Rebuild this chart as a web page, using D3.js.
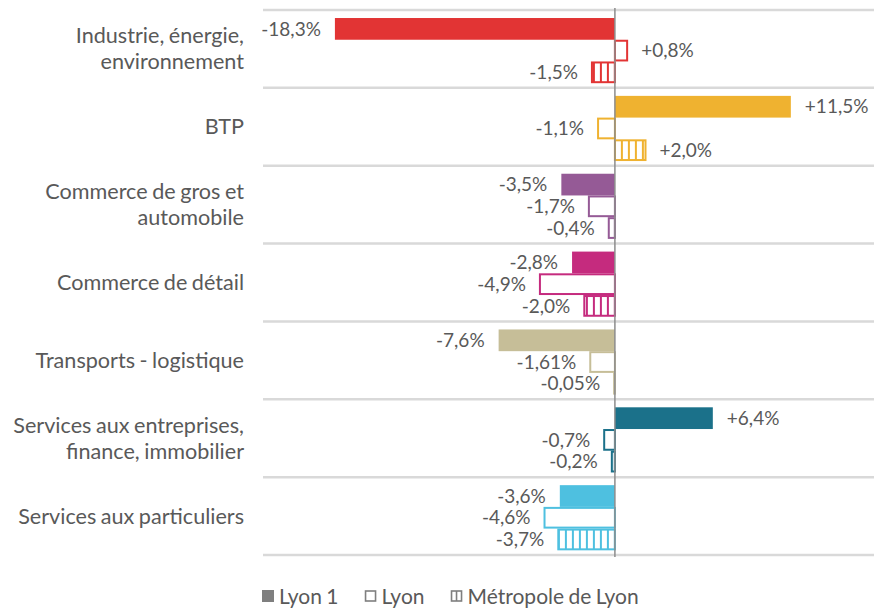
<!DOCTYPE html>
<html>
<head>
<meta charset="utf-8">
<script src="https://cdn.jsdelivr.net/npm/d3@7"></script>
<style>
  html, body { margin: 0; padding: 0; background: #fff; }
  svg { display: block; font-family: Lato, "Open Sans", sans-serif; }
</style>
</head>
<body>
<svg id="chart" width="881" height="609"></svg>
<script>
// Evolution par secteur : Lyon 1, Lyon, Métropole de Lyon
const categories = [
  ["Industrie, énergie,", "environnement"],
  ["BTP"],
  ["Commerce de gros et", "automobile"],
  ["Commerce de détail"],
  ["Transports - logistique"],
  ["Services aux entreprises,", "finance, immobilier"],
  ["Services aux particuliers"]
];
const series = ["Lyon 1", "Lyon", "Métropole de Lyon"];
const lyon1     = [-18.3, 11.5, -3.5, -2.8, -7.6, 6.4, -3.6];
const lyon      = [0.8, -1.1, -1.7, -4.9, -1.61, -0.7, -4.6];
const metropole = [-1.5, 2.0, -0.4, -2.0, -0.05, -0.2, -3.7];
const valueLabels = [
  ["-18,3%", "+0,8%", "-1,5%"],
  ["+11,5%", "-1,1%", "+2,0%"],
  ["-3,5%", "-1,7%", "-0,4%"],
  ["-2,8%", "-4,9%", "-2,0%"],
  ["-7,6%", "-1,61%", "-0,05%"],
  ["+6,4%", "-0,7%", "-0,2%"],
  ["-3,6%", "-4,6%", "-3,7%"]
];
const colors = ["#E23434", "#EFB230", "#955A96", "#C52B7E", "#C6BE98", "#1B718A", "#4EC0E0"];

const textColor = "#595959";
const svg = d3.select("#chart");

const x = d3.scaleLinear().domain([-23, 17]).range([263, 875]);
const keys = categories.map((c, i) => i);
const y = d3.scaleBand().domain(keys).range([10, 555]).padding(0);
const bw = y.bandwidth();
const ySub = d3.scaleBand().domain([0, 1, 2]).range([bw * 0.103, bw * 0.94]).padding(0);
const sh = ySub.bandwidth();

// vertical stripe patterns, one per sector colour
const defs = svg.append("defs");
function stripe(id, color) {
  const p = defs.append("pattern")
    .attr("id", id)
    .attr("patternUnits", "userSpaceOnUse")
    .attr("x", x(0) - 1)
    .attr("width", 7)
    .attr("height", 10);
  p.append("rect").attr("width", 7).attr("height", 10).attr("fill", "#fff");
  p.append("rect").attr("x", 0).attr("width", 2).attr("height", 10).attr("fill", color);
}
colors.forEach((c, i) => stripe("stripe" + i, c));

// horizontal separators
const lines = y.domain().map(d => y(d)).concat([y.range()[1]]);
svg.append("g").selectAll("line").data(lines).join("line")
  .attr("x1", 263).attr("x2", 874)
  .attr("y1", d => d).attr("y2", d => d)
  .attr("stroke", "#D9D9D9").attr("stroke-width", 2.5);

// bars
const rows = keys.map(i => [lyon1[i], lyon[i], metropole[i]]);
const g = svg.append("g").selectAll("g").data(rows).join("g")
  .attr("transform", (d, i) => `translate(0,${y(i)})`);

g.each(function(vals, i) {
  const grp = d3.select(this);
  vals.forEach((v, s) => {
    const x0 = Math.min(x(0), x(v));
    const w = Math.abs(x(v) - x(0));
    const r = grp.append("rect")
      .attr("y", ySub(s) + (s === 0 ? 0 : 1))
      .attr("height", s === 0 ? sh : sh - 2);
    if (s === 0) {
      r.attr("x", x0).attr("width", w).attr("fill", colors[i]);
    } else {
      r.attr("x", x0).attr("width", w)
        .attr("fill", s === 1 ? "#fff" : `url(#stripe${i})`)
        .attr("stroke", colors[i]).attr("stroke-width", 2);
    }
    grp.append("text")
      .attr("x", v < 0 ? x(v) - 14 : x(v) + 14)
      .attr("y", ySub(s) + sh / 2)
      .attr("dy", "0.35em")
      .attr("text-anchor", v < 0 ? "end" : "start")
      .attr("fill", textColor)
      .attr("font-size", 19)
      .text(valueLabels[i][s]);
  });
});

// zero axis
svg.append("line")
  .attr("x1", x(0)).attr("x2", x(0))
  .attr("y1", 8).attr("y2", 557)
  .attr("stroke", "#8C8C8C").attr("stroke-width", 1.5);

// category labels
const cat = svg.append("g").selectAll("text").data(categories).join("text")
  .attr("text-anchor", "end")
  .attr("fill", textColor)
  .attr("font-size", 21.6)
  .attr("word-spacing", -1)
  .attr("transform", (d, i) => `translate(244,${y(i) + bw / 2})`);
cat.each(function(lines) {
  const t = d3.select(this);
  const lh = 26;
  lines.forEach((l, k) => {
    t.append("tspan").attr("x", 0)
      .attr("y", (k - (lines.length - 1) / 2) * lh)
      .attr("dy", "0.35em")
      .text(l);
  });
});

// legend
const legend = svg.append("g").attr("transform", "translate(262,596)");
let lx = 0;
series.forEach((name, s) => {
  const item = legend.append("g").attr("transform", `translate(${lx},0)`);
  if (s === 0) {
    item.append("rect").attr("x", 0).attr("y", -6).attr("width", 12).attr("height", 12).attr("fill", "#7f7f7f");
  } else {
    item.append("rect").attr("x", 1).attr("y", -5).attr("width", 10).attr("height", 10)
      .attr("fill", "#fff")
      .attr("stroke", "#7f7f7f").attr("stroke-width", 1.6);
    if (s === 2) {
      item.append("line").attr("x1", 6).attr("x2", 6).attr("y1", -5).attr("y2", 5)
        .attr("stroke", "#7f7f7f").attr("stroke-width", 1.6);
    }
  }
  const t = item.append("text").attr("x", 17).attr("dy", "0.36em")
    .attr("fill", textColor).attr("font-size", 21).attr("word-spacing", -1).text(name);
  lx += 17 + t.node().getComputedTextLength() + 26;
});
</script>
</body>
</html>
